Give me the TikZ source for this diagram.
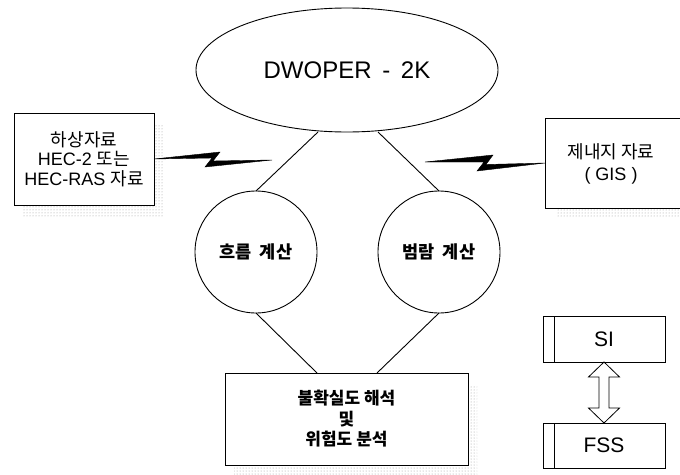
\documentclass[tikz,border=0pt]{standalone}
\usepackage{fontspec}
\setmainfont{Liberation Sans}
\newfontfamily\kr{Noto Sans CJK KR}
\newcommand\krb{\kr\bfseries}
\usetikzlibrary{shapes.geometric,patterns,backgrounds,calc}
\begin{document}
\begin{tikzpicture}[x=1pt,y=-1pt,
  line width=0.9pt,
  every node/.style={inner sep=0pt, outer sep=0pt},
  bigell/.style={draw, ellipse, minimum width=302pt, minimum height=124pt, font=\fontsize{24}{28}\selectfont},
  calcball/.style={draw, circle, minimum size=122pt, font=\krb\fontsize{17.5}{20}\selectfont},
  databox/.style={draw, fill=white, rectangle, align=center, font=\fontsize{18}{19.5}\selectfont},
  tagbox/.style={draw, fill=white, rectangle, minimum width=122pt, minimum height=46pt, font=\fontsize{21}{24}\selectfont},
  shade/.style={pattern=dots, pattern color=gray!80},
  bolt/.style={fill=black, draw=black, line width=0.4pt, line join=miter},
  conn/.style={draw, line width=0.9pt}]
\useasboundingbox (0,0) rectangle (680,474);

% main nodes
\node[bigell] (dw) at (347,70) {DWOPER\, - \,2K};
\node[calcball] (flow) at (256,252) {흐름\hspace{0.45em}계산};
\node[calcball] (flood) at (439,252) {범람\hspace{0.45em}계산};

\node[databox, minimum width=140pt, minimum height=92pt] (lbox) at (84,159)
  {{\kr 하상자료}\\HEC-2 {\kr 또는}\\HEC-RAS {\kr 자료}};
\node[databox, minimum width=147pt, minimum height=90pt] (rbox) at (618.5,163) {};
\node[font=\fontsize{18}{22}\selectfont, align=center] (rtext) at (611,164)
  {{\kr 제내지 자료}\\( GIS )};
\node[databox, minimum width=243pt, minimum height=92pt, font=\krb\fontsize{17}{20.5}\selectfont] (bbox) at (346.5,419)
  {불확실도 해석\\및\\위험도 분석};

\node[tagbox] (si) at (604,339) {SI};
\node[tagbox, minimum height=45pt] (fss) at (604,445.5) {FSS};
\draw ([xshift=11]si.north west) -- ([xshift=11]si.south west);
\draw ([xshift=11]fss.north west) -- ([xshift=11]fss.south west);

% shadows
\begin{scope}[on background layer]
  \fill[shade] ([shift={(9,12)}]lbox.north west) rectangle ([shift={(9,12)}]lbox.south east);
  \fill[shade] ([shift={(12,8)}]rbox.north west) rectangle ([shift={(12,8)}]rbox.south east);
  \fill[shade] ([shift={(9,12)}]bbox.north west) rectangle ([shift={(9,12)}]bbox.south east);
\end{scope}

% connectors
\draw[conn] ([xshift=-29]dw.south) -- (flow.north);
\draw[conn] ([xshift=31]dw.south) -- (flood.north);
\draw[conn] (flow.south) -- ([xshift=-29.5]bbox.north);
\draw[conn] (flood.south) -- ([xshift=30.5]bbox.north);

% lightning connectors
\coordinate (lz) at (272,160);
\coordinate (rz) at (425,162);
\fill[bolt] (lbox.east) -- (220,152) -- (213,161) -- (lz) -- (205,167) -- (212,158) -- cycle;
\fill[bolt] (rz) -- (493,155) -- (486,164.5) -- (rbox.west) -- (477,171) -- (484,162) -- cycle;

% double arrow between SI and FSS
\draw[fill=white, line width=0.8pt, line join=miter]
  (si.south) -- ([shift={(15.5,15)}]si.south) -- ([shift={(5,15)}]si.south)
  -- ([shift={(5,-15)}]fss.north) -- ([shift={(15.5,-15)}]fss.north) -- (fss.north)
  -- ([shift={(-15.5,-15)}]fss.north) -- ([shift={(-5,-15)}]fss.north)
  -- ([shift={(-5,15)}]si.south) -- ([shift={(-15.5,15)}]si.south) -- cycle;
\end{tikzpicture}
\end{document}
